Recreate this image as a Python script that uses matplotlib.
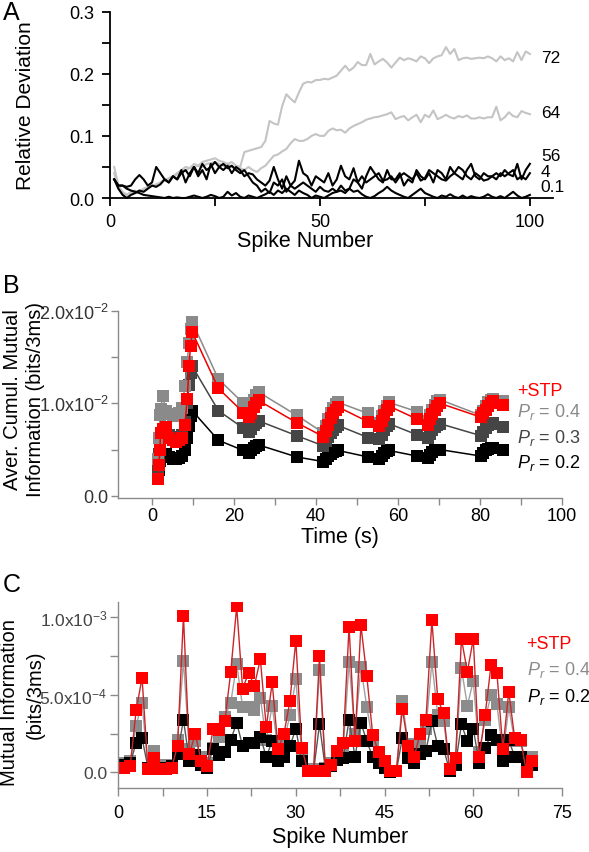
import matplotlib
matplotlib.use("Agg")
import matplotlib.pyplot as plt
from matplotlib.ticker import MultipleLocator, FixedLocator

plt.rcParams['font.family'] = ['Liberation Sans', 'DejaVu Sans']
plt.rcParams['mathtext.fontset'] = 'custom'
plt.rcParams['mathtext.rm'] = 'Liberation Sans'
plt.rcParams['mathtext.it'] = 'Liberation Sans:italic'

# ---- panel A: relative deviation vs spike number ----
spikes_a = list(range(1, 101))
dev_72 = [0.050, 0.020, 0.010, 0.005, 0.008, 0.010, 0.012, 0.010, 0.015, 0.020,
          0.018, 0.025, 0.030, 0.028, 0.035, 0.040, 0.045, 0.050, 0.048, 0.055,
          0.052, 0.058, 0.060, 0.062, 0.064, 0.060, 0.058, 0.055, 0.058, 0.052,
          0.050, 0.074, 0.076, 0.078, 0.080, 0.082, 0.092, 0.124, 0.120, 0.118,
          0.148, 0.167, 0.160, 0.154, 0.170, 0.184, 0.187, 0.186, 0.190, 0.190,
          0.192, 0.191, 0.194, 0.197, 0.205, 0.213, 0.205, 0.210, 0.219, 0.214,
          0.214, 0.232, 0.215, 0.220, 0.224, 0.218, 0.210, 0.218, 0.226, 0.222,
          0.225, 0.223, 0.220, 0.228, 0.225, 0.217, 0.225, 0.228, 0.230, 0.243,
          0.232, 0.240, 0.222, 0.225, 0.226, 0.224, 0.225, 0.226, 0.225, 0.228,
          0.225, 0.220, 0.228, 0.222, 0.225, 0.220, 0.235, 0.222, 0.236, 0.232]
dev_64 = [0.040, 0.015, 0.008, 0.005, 0.010, 0.012, 0.010, 0.015, 0.018, 0.020,
          0.022, 0.025, 0.028, 0.032, 0.035, 0.038, 0.042, 0.045, 0.048, 0.050,
          0.052, 0.050, 0.055, 0.056, 0.058, 0.055, 0.052, 0.055, 0.050, 0.048,
          0.048, 0.045, 0.050, 0.045, 0.042, 0.048, 0.052, 0.060, 0.068, 0.070,
          0.075, 0.079, 0.088, 0.095, 0.092, 0.092, 0.095, 0.100, 0.103, 0.100,
          0.100, 0.108, 0.112, 0.109, 0.110, 0.105, 0.112, 0.116, 0.119, 0.122,
          0.126, 0.128, 0.130, 0.131, 0.133, 0.135, 0.138, 0.127, 0.130, 0.132,
          0.125, 0.130, 0.134, 0.122, 0.134, 0.130, 0.141, 0.127, 0.130, 0.134,
          0.130, 0.128, 0.132, 0.130, 0.133, 0.128, 0.128, 0.130, 0.128, 0.130,
          0.130, 0.147, 0.125, 0.130, 0.138, 0.132, 0.130, 0.140, 0.137, 0.135]
dev_56 = [0.030, 0.020, 0.020, 0.018, 0.020, 0.030, 0.037, 0.030, 0.020, 0.025,
          0.050, 0.040, 0.030, 0.025, 0.035, 0.030, 0.045, 0.025, 0.040, 0.050,
          0.035, 0.045, 0.030, 0.055, 0.040, 0.050, 0.045, 0.052, 0.040, 0.050,
          0.045, 0.035, 0.040, 0.038, 0.030, 0.025, 0.020, 0.028, 0.050, 0.030,
          0.015, 0.035, 0.020, 0.028, 0.060, 0.040, 0.035, 0.020, 0.035, 0.030,
          0.025, 0.040, 0.020, 0.030, 0.052, 0.035, 0.030, 0.048, 0.025, 0.015,
          0.035, 0.050, 0.040, 0.030, 0.025, 0.045, 0.030, 0.030, 0.040, 0.020,
          0.030, 0.025, 0.045, 0.035, 0.030, 0.040, 0.025, 0.045, 0.040, 0.030,
          0.050, 0.040, 0.035, 0.030, 0.045, 0.055, 0.035, 0.030, 0.040, 0.035,
          0.035, 0.040, 0.035, 0.045, 0.038, 0.035, 0.055, 0.030, 0.045, 0.055]
dev_4 = [0.030, 0.015, 0.005, 0.000, 0.005, 0.008, 0.012, 0.010, 0.015, 0.020,
         0.018, 0.022, 0.030, 0.025, 0.035, 0.030, 0.040, 0.045, 0.035, 0.050,
         0.040, 0.055, 0.045, 0.050, 0.058, 0.050, 0.055, 0.048, 0.052, 0.045,
         0.040, 0.045, 0.035, 0.025, 0.020, 0.010, 0.015, 0.008, 0.025, 0.020,
         0.030, 0.010, 0.020, 0.015, 0.020, 0.025, 0.020, 0.015, 0.010, 0.018,
         0.012, 0.010, 0.015, 0.010, 0.020, 0.012, 0.015, 0.030, 0.025, 0.035,
         0.025, 0.030, 0.035, 0.040, 0.028, 0.030, 0.035, 0.025, 0.035, 0.040,
         0.035, 0.030, 0.040, 0.028, 0.032, 0.045, 0.040, 0.035, 0.030, 0.028,
         0.035, 0.040, 0.050, 0.045, 0.035, 0.030, 0.040, 0.035, 0.028, 0.030,
         0.035, 0.030, 0.040, 0.035, 0.040, 0.045, 0.030, 0.035, 0.030, 0.040]
dev_01 = [0.030, 0.020, 0.020, 0.015, 0.012, 0.010, 0.008, 0.005, 0.004, 0.003,
          0.002, 0.001, 0.000, 0.002, 0.000, 0.001, 0.000, 0.000, 0.002, 0.004,
          0.002, 0.000, 0.002, 0.005, 0.003, 0.000, 0.002, 0.010, 0.004, 0.008,
          0.002, 0.000, 0.004, 0.002, 0.000, 0.003, 0.006, 0.010, 0.005, 0.012,
          0.008, 0.015, 0.010, 0.005, 0.012, 0.008, 0.005, 0.000, 0.004, 0.002,
          0.000, 0.004, 0.008, 0.010, 0.012, 0.008, 0.015, 0.010, 0.012, 0.006,
          0.002, 0.000, 0.003, 0.008, 0.012, 0.018, 0.012, 0.008, 0.005, 0.002,
          0.000, 0.005, 0.010, 0.015, 0.008, 0.005, 0.002, 0.000, 0.004, 0.002,
          0.006, 0.002, 0.000, 0.004, 0.000, 0.003, 0.001, 0.000, 0.002, 0.006,
          0.002, 0.000, 0.003, 0.000, 0.005, 0.010, 0.004, 0.000, 0.002, 0.005]
labels_a = ["72", "64", "56", "4", "0.1"]
label_y_a = [0.227, 0.137, 0.068, 0.043, 0.018]

# ---- panel B: averaged cumulative mutual information (units of 1e-2) ----
times_b = [1.5, 1.7, 1.9, 2.1, 2.6, 3.4, 4.2, 5.0, 5.8, 6.6, 7.4, 8.0, 8.6, 9.0, 9.4, 9.8,
           16.2, 22.3, 23.6, 24.2, 24.8, 25.4, 26.0,
           35.3, 41.8, 42.4, 43.0, 43.6, 44.2, 44.8, 45.4,
           52.7, 55.4, 56.0, 56.6, 57.2, 57.8,
           64.6, 67.2, 67.8, 68.4, 69.0, 69.6, 70.2,
           80.2, 80.8, 81.4, 82.0, 82.6, 83.2,
           85.6]
stp_b = [0.18, 0.33, 0.49, 0.68, 0.72, 0.74, 0.62, 0.60, 0.58, 0.60, 0.62, 0.76, 1.05, 1.40, 1.62, 1.77,
         1.16, 0.90, 0.85, 0.90, 0.96, 1.00, 1.03,
         0.79, 0.64, 0.70, 0.77, 0.84, 0.89, 0.93, 0.96,
         0.80, 0.75, 0.81, 0.87, 0.93, 0.97,
         0.83, 0.77, 0.83, 0.88, 0.93, 0.97, 1.00,
         0.85, 0.89, 0.93, 0.97, 1.00, 1.02,
         0.98]
pr04_b = [0.40, 0.62, 0.87, 0.94, 1.08, 0.92, 0.88, 0.86, 0.88, 0.90, 0.95, 1.19, 1.45, 1.65, 1.80, 1.88,
          1.26, 1.00, 0.93, 0.98, 1.04, 1.09, 1.12,
          0.87, 0.68, 0.75, 0.83, 0.90, 0.95, 0.99, 1.01,
          0.89, 0.79, 0.86, 0.92, 0.97, 1.01,
          0.91, 0.81, 0.87, 0.93, 0.98, 1.02, 1.04,
          0.87, 0.92, 0.97, 1.01, 1.04, 1.05,
          1.02]
pr03_b = [0.28, 0.45, 0.58, 0.66, 0.70, 0.72, 0.66, 0.64, 0.63, 0.64, 0.66, 0.80, 1.00, 1.20, 1.33, 1.40,
          0.92, 0.73, 0.69, 0.72, 0.76, 0.79, 0.81,
          0.65, 0.54, 0.59, 0.64, 0.68, 0.71, 0.74, 0.76,
          0.63, 0.61, 0.66, 0.71, 0.75, 0.78,
          0.66, 0.63, 0.67, 0.71, 0.74, 0.77, 0.78,
          0.65, 0.69, 0.73, 0.76, 0.78, 0.79,
          0.74]
pr02_b = [0.18, 0.28, 0.38, 0.42, 0.44, 0.45, 0.42, 0.40, 0.40, 0.41, 0.43, 0.50, 0.62, 0.75, 0.86, 0.92,
          0.60, 0.49, 0.46, 0.49, 0.52, 0.54, 0.55,
          0.42, 0.37, 0.40, 0.43, 0.45, 0.47, 0.48, 0.49,
          0.42, 0.40, 0.43, 0.46, 0.48, 0.49,
          0.43, 0.41, 0.44, 0.47, 0.49, 0.50, 0.50,
          0.43, 0.46, 0.49, 0.51, 0.52, 0.52,
          0.49]

# ---- panel C: mutual information per spike (units of 1e-3) ----
spikes_c = list(range(1, 71))
stp_c = [0.03, 0.04, 0.40, 0.61, 0.02, 0.09, 0.02, 0.02, 0.03, 0.17,
         1.01, 0.12, 0.25, 0.07, 0.04, 0.28, 0.27, 0.33, 0.65, 1.07,
         0.54, 0.64, 0.56, 0.73, 0.29, 0.58, 0.15, 0.25, 0.46, 0.85,
         0.16, 0.01, 0.01, 0.75, 0.01, 0.05, 0.14, 0.19, 0.94, 0.20,
         0.95, 0.62, 0.24, 0.13, 0.07, 0.01, 0.01, 0.41, 0.17, 0.10,
         0.25, 0.34, 0.98, 0.47, 0.38, 0.02, 0.09, 0.86, 0.65, 0.86,
         0.10, 0.37, 0.69, 0.64, 0.15, 0.52, 0.22, 0.21, 0.00, 0.07]
pr04_c = [0.06, 0.07, 0.30, 0.45, 0.03, 0.14, 0.03, 0.05, 0.05, 0.21,
          0.72, 0.15, 0.20, 0.10, 0.06, 0.16, 0.23, 0.36, 0.45, 0.70,
          0.42, 0.42, 0.40, 0.48, 0.21, 0.43, 0.14, 0.20, 0.37, 0.60,
          0.12, 0.02, 0.02, 0.66, 0.03, 0.06, 0.12, 0.15, 0.71, 0.25,
          0.68, 0.42, 0.20, 0.10, 0.05, 0.01, 0.01, 0.46, 0.18, 0.13,
          0.20, 0.28, 0.71, 0.37, 0.33, 0.02, 0.08, 0.67, 0.43, 0.59,
          0.13, 0.34, 0.50, 0.44, 0.11, 0.42, 0.20, 0.20, 0.05, 0.10]
pr02_c = [0.05, 0.06, 0.19, 0.22, 0.03, 0.08, 0.03, 0.03, 0.04, 0.12,
          0.34, 0.07, 0.11, 0.05, 0.03, 0.15, 0.11, 0.13, 0.21, 0.32,
          0.17, 0.19, 0.19, 0.23, 0.10, 0.20, 0.07, 0.10, 0.17, 0.28,
          0.07, 0.01, 0.01, 0.31, 0.02, 0.04, 0.08, 0.09, 0.34, 0.10,
          0.32, 0.20, 0.10, 0.06, 0.03, 0.00, 0.01, 0.22, 0.09, 0.06,
          0.12, 0.14, 0.33, 0.17, 0.15, 0.01, 0.05, 0.31, 0.20, 0.28,
          0.06, 0.16, 0.24, 0.21, 0.07, 0.21, 0.10, 0.10, 0.03, 0.05]

W, H = 589.0, 853.0


def box(x0, y0, x1, y1):
    # pixel box (top-left origin) -> figure fraction rect
    return [x0 / W, 1 - y1 / H, (x1 - x0) / W, (y1 - y0) / H]


def ftext(x, y, s, **kw):
    fig.text(x / W, 1 - y / H, s, **kw)


fig = plt.figure(figsize=(5.89, 8.53), dpi=100)

# ---------------- A ----------------
axA = fig.add_axes(box(110, 12.7, 553, 199))
for name, vals, col in [("72", dev_72, "#c4c4c4"), ("64", dev_64, "#c4c4c4"),
                        ("56", dev_56, "black"), ("4", dev_4, "black"), ("0.1", dev_01, "black")]:
    axA.plot(spikes_a, vals, color=col, lw=1.5, clip_on=False)
axA.set_xlim(0, 105.5)
axA.set_ylim(0, 0.3)
axA.spines['top'].set_visible(False)
axA.spines['right'].set_visible(False)
for s in ['left', 'bottom']:
    axA.spines[s].set_linewidth(1.3)
axA.set_yticks([0, 0.1, 0.2, 0.3])
axA.set_yticklabels(["0.0", "0.1", "0.2", "0.3"])
axA.yaxis.set_minor_locator(FixedLocator([0.05, 0.15, 0.25]))
axA.set_xticks([0, 50, 100])
axA.xaxis.set_minor_locator(FixedLocator([25, 75]))
axA.tick_params(which='both', direction='out', length=6, width=1.3, labelsize=13, pad=5)
for lab, yv in zip(labels_a, label_y_a):
    axA.text(102.6, yv, lab, fontsize=12.5, va='center', ha='left', clip_on=False)

ftext(26, 106, "Relative Deviation", rotation=90, ha='center', va='center', fontsize=15)
ftext(305, 242, "Spike Number", ha='center', va='center', fontsize=15.5)
ftext(3, 13, "A", ha='left', va='center', fontsize=18)

# ---------------- B ----------------
axB = fig.add_axes(box(118.4, 311.7, 562, 498.7))
series_b = [(pr02_b, "black", "black"), (pr03_b, "#454545", "#454545"),
            (pr04_b, "#8a8a8a", "#8a8a8a"), (stp_b, "#ff0000", "#ee0000")]
for vals, mc, lc in series_b:
    axB.plot(times_b, [v * 1e-2 for v in vals], color=lc, lw=1.1, marker='s', ms=8.5,
             mfc=mc, mec=mc, mew=0)
axB.set_xlim(-8.2, 100)
axB.set_ylim(-0.0002, 0.02)
axB.spines['top'].set_visible(False)
axB.spines['right'].set_visible(False)
for s in ['left', 'bottom']:
    axB.spines[s].set_color('#8a8a8a')
    axB.spines[s].set_linewidth(1)
axB.set_xticks([0, 20, 40, 60, 80, 100])
axB.xaxis.set_minor_locator(FixedLocator([10, 30, 50, 70, 90]))
axB.set_yticks([0, 0.01, 0.02])
axB.set_yticklabels(["0.0", r"1.0x10$^{-2}$", r"2.0x10$^{-2}$"])
axB.yaxis.set_minor_locator(FixedLocator([0.005, 0.015]))
axB.tick_params(which='both', direction='out', length=5, width=1, color='#8a8a8a')
axB.tick_params(axis='x', labelsize=13, pad=2)
axB.tick_params(axis='y', labelsize=13, pad=2, labelcolor='#333333')

axB.text(89, 0.0114, "+STP", color="#ff0000", fontsize=13, va='center', ha='left', clip_on=False)
axB.text(89, 0.00915, r"$P_r$ = 0.4", color="#8a8a8a", fontsize=13, va='center', ha='left', clip_on=False)
axB.text(89, 0.00635, r"$P_r$ = 0.3", color="#454545", fontsize=13, va='center', ha='left', clip_on=False)
axB.text(89, 0.00365, r"$P_r$ = 0.2", color="black", fontsize=13, va='center', ha='left', clip_on=False)

ftext(13, 400, "Aver. Cumul. Mutual", rotation=90, ha='center', va='center', fontsize=14.5)
ftext(36, 400, "Information (bits/3ms)", rotation=90, ha='center', va='center', fontsize=14.5)
ftext(340, 538, "Time (s)", ha='center', va='center', fontsize=15.5)
ftext(3, 286, "B", ha='left', va='center', fontsize=18)

# ---------------- C ----------------
axC = fig.add_axes(box(118.4, 603.3, 562, 789.3))
series_c = [(pr04_c, "#8c8c8c", "#a0a0a0"), (pr02_c, "black", "#555555"),
            (stp_c, "#ff0000", "#c8262a")]
for vals, mc, lc in series_c:
    axC.plot(spikes_c, [v * 1e-3 for v in vals], color=lc, lw=1, marker='s', ms=8.5,
             mfc=mc, mec=mc, mew=0)
axC.set_xlim(0, 75)
axC.set_ylim(-1.03e-4, 1.097e-3)
axC.spines['top'].set_visible(False)
axC.spines['right'].set_visible(False)
for s in ['left', 'bottom']:
    axC.spines[s].set_color('#8a8a8a')
    axC.spines[s].set_linewidth(1)
axC.set_xticks([0, 15, 30, 45, 60, 75])
axC.xaxis.set_minor_locator(MultipleLocator(7.5))
axC.set_yticks([0, 5e-4, 1e-3])
axC.set_yticklabels(["0.0", r"5.0x10$^{-4}$", r"1.0x10$^{-3}$"])
axC.yaxis.set_minor_locator(FixedLocator([2.5e-4, 7.5e-4]))
axC.tick_params(which='both', direction='out', length=6, width=1, color='#8a8a8a')
axC.tick_params(axis='x', labelsize=13, pad=5)
axC.tick_params(axis='y', labelsize=12.5, pad=2, labelcolor='#444444')

axC.text(69, 0.83e-3, "+STP", color="#ff0000", fontsize=13, va='center', ha='left', clip_on=False)
axC.text(69, 0.667e-3, r"$P_r$ = 0.4", color="#8c8c8c", fontsize=13, va='center', ha='left', clip_on=False)
axC.text(69, 0.49e-3, r"$P_r$ = 0.2", color="black", fontsize=13, va='center', ha='left', clip_on=False)

ftext(10, 703, "Mutual Information", rotation=90, ha='center', va='center', fontsize=14.5)
ftext(35, 695, "(bits/3ms)", rotation=90, ha='center', va='center', fontsize=14.5)
ftext(340, 838, "Spike Number", ha='center', va='center', fontsize=15.5)
ftext(3, 585, "C", ha='left', va='center', fontsize=18)

fig.savefig("out.png", dpi=100)
